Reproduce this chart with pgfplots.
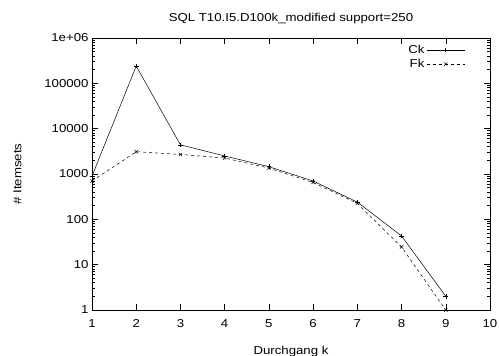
\documentclass[border=0pt]{standalone}
\usepackage{fontspec}
\setmainfont[FakeStretch=1.15]{Liberation Sans}
\usepackage{pgfplots}
\pgfplotsset{compat=1.18}
\begin{document}
\begin{tikzpicture}
\path[use as bounding box] (-92pt,-46pt) rectangle (407pt,310pt);
\begin{axis}[
  at={(0,0)}, anchor=south west,
  scale only axis, width=398pt, height=272pt,
  ymode=log, xmin=1, xmax=10, ymin=1, ymax=1e6,
  xtick={1,...,10},
  ytick={1,10,100,1000,10000,100000,1000000},
  yticklabels={1,10,100,1000,10000,100000,1e+06},
  tick align=inside,
  major tick length=6pt, minor tick length=3pt,
  tick style={black, line width=0.5pt},
  /pgf/number format/assume math mode=true,
  tick label style={font=\fontsize{11.5}{12}\selectfont},
  xticklabel style={yshift=-6pt},
  label style={font=\fontsize{11.5}{12}\selectfont},
  title style={font=\fontsize{11.5}{12}\selectfont, yshift=5pt},
  title={SQL T10.I5.D100k\_modified support=250},
  xlabel={Durchgang k},
  ylabel={\# Itemsets},
  xlabel style={yshift=-12pt},
  ylabel style={yshift=16pt},
  legend style={draw=none, fill=none, at={(0.94,0.985)}, anchor=north east, font=\fontsize{11.5}{12}\selectfont, row sep=0pt, inner sep=1pt},
  legend cell align=right,
  legend plot pos=right,
  legend image code/.code={\draw[mark repeat=2,mark phase=2,#1] plot coordinates {(3pt,0pt) (22pt,0pt) (41pt,0pt)};},
  axis line style={line width=0.6pt},
]
\addplot[black, line width=0.5pt, mark=+, mark size=2.3pt] coordinates {
(1,900) (2,240000) (3,4400) (4,2500) (5,1450) (6,700) (7,240) (8,43) (9,2)};
\addlegendentry{Ck}
\addplot[black, dashed, line width=0.5pt, mark=x, mark size=2.3pt, mark options={solid}] coordinates {
(1,700) (2,3100) (3,2700) (4,2250) (5,1350) (6,650) (7,225) (8,24.5) (9,1)};
\addlegendentry{Fk}
\end{axis}
\end{tikzpicture}
\end{document}
